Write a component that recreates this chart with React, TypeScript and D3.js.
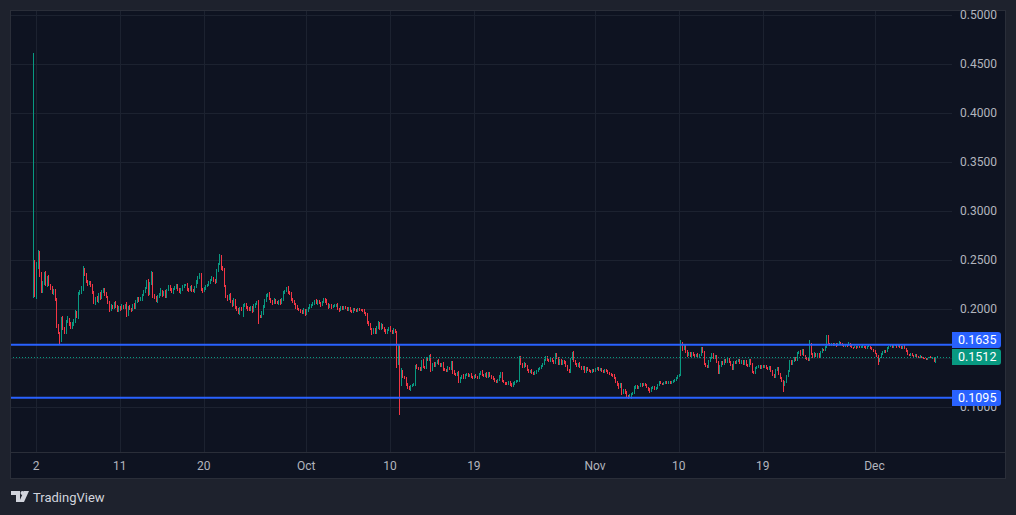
import React from "react";
import * as d3 from "d3";

const W = 1016;
const H = 515;

// 4h candles, first candle at 2025-09-01 16:00 UTC; prices in 1e-4 units
const firstOpen = 2150;
const closes = [
  2480, 2130, 2420, 2580, 2350, 2180, 2270, 2360, 2240, 2320,
  2250, 2210, 2160, 2190, 2100, 1830, 1760, 1700, 1900, 1800,
  1760, 1870, 1900, 1850, 1810, 1840, 1880, 1960, 1920, 2150,
  2170, 2200, 2400, 2350, 2290, 2250, 2270, 2240, 2170, 2060,
  2110, 2080, 2150, 2110, 2180, 2200, 2150, 2120, 2070, 1990,
  2030, 2010, 2060, 2030, 1980, 2020, 2000, 2030, 2010, 2040,
  1940, 2020, 2000, 1990, 2040, 2010, 2080, 2110, 2090, 2100,
  2140, 2180, 2210, 2290, 2150, 2260, 2370, 2130, 2120, 2080,
  2130, 2140, 2180, 2140, 2170, 2130, 2190, 2230, 2200, 2170,
  2200, 2220, 2240, 2200, 2170, 2190, 2230, 2240, 2250, 2200,
  2190, 2220, 2190, 2180, 2220, 2280, 2320, 2360, 2200, 2180,
  2210, 2230, 2250, 2270, 2300, 2320, 2290, 2280, 2390, 2460,
  2530, 2420, 2400, 2230, 2130, 2100, 2140, 2080, 2040, 2090,
  2020, 1990, 1960, 2010, 1990, 2030, 2050, 2020, 2000, 1990,
  2020, 1980, 2030, 2050, 2070, 1930, 1920, 1960, 2030, 2080,
  2140, 2150, 2100, 2080, 2060, 2090, 2070, 2060, 2080, 2060,
  2100, 2170, 2180, 2220, 2170, 2150, 2100, 2080, 2050, 2020,
  2000, 1990, 1980, 1960, 1990, 1950, 1980, 2010, 2030, 2040,
  2060, 2080, 2060, 2080, 2060, 2040, 2070, 2100, 2080, 2050,
  2020, 2040, 2020, 2030, 2035, 2040, 2000, 1990, 2020, 2000,
  2020, 2010, 1990, 2010, 1975, 1970, 2000, 1990, 1980, 2000,
  1990, 1985, 1980, 1960, 1940, 1870, 1840, 1800, 1750, 1790,
  1760, 1820, 1860, 1800, 1840, 1810, 1780, 1760, 1790, 1810,
  1780, 1760, 1790, 1770, 1440, 1630, 1230, 1360, 1310, 1300,
  1230, 1200, 1180, 1210, 1220, 1230, 1420, 1400, 1390, 1380,
  1470, 1410, 1400, 1500, 1480, 1520, 1380, 1440, 1420, 1450,
  1470, 1440, 1420, 1440, 1390, 1380, 1370, 1400, 1390, 1460,
  1360, 1340, 1330, 1350, 1260, 1300, 1320, 1300, 1330, 1340,
  1320, 1330, 1310, 1300, 1320, 1310, 1300, 1340, 1360, 1330,
  1320, 1340, 1310, 1350, 1320, 1300, 1290, 1270, 1260, 1280,
  1310, 1350, 1270, 1250, 1240, 1230, 1260, 1230, 1210, 1240,
  1260, 1265, 1270, 1510, 1440, 1410, 1440, 1420, 1380, 1360,
  1370, 1350, 1340, 1355, 1370, 1390, 1400, 1420, 1440, 1480,
  1510, 1480, 1470, 1490, 1470, 1450, 1540, 1500, 1440, 1480,
  1440, 1470, 1450, 1420, 1380, 1360, 1490, 1560, 1470, 1440,
  1420, 1440, 1410, 1390, 1410, 1360, 1400, 1380, 1370, 1360,
  1380, 1370, 1390, 1400, 1380, 1390, 1370, 1360, 1375, 1365,
  1350, 1340, 1330, 1320, 1300, 1260, 1230, 1200, 1240, 1140,
  1170, 1150, 1110, 1100, 1120, 1130, 1140, 1200, 1210, 1190,
  1210, 1240, 1220, 1240, 1220, 1200, 1180, 1160, 1190, 1200,
  1185, 1200, 1220, 1260, 1240, 1230, 1250, 1260, 1240, 1255,
  1245, 1260, 1270, 1280, 1300, 1320, 1330, 1640, 1590, 1620,
  1560, 1530, 1550, 1520, 1550, 1530, 1520, 1540, 1510, 1530,
  1600, 1560, 1440, 1420, 1410, 1470, 1500, 1540, 1500, 1520,
  1460, 1350, 1420, 1460, 1440, 1480, 1460, 1490, 1460, 1430,
  1390, 1460, 1450, 1470, 1480, 1450, 1470, 1440, 1470, 1430,
  1420, 1480, 1440, 1360, 1350, 1400, 1410, 1420, 1400, 1415,
  1405, 1420, 1400, 1390, 1410, 1370, 1330, 1310, 1380, 1400,
  1340, 1300, 1270, 1220, 1260, 1320, 1370, 1470, 1440, 1470,
  1500, 1480, 1550, 1570, 1540, 1580, 1530, 1500, 1490, 1480,
  1640, 1540, 1510, 1550, 1520, 1540, 1510, 1560, 1590, 1580,
  1610, 1720, 1650, 1630, 1640, 1630, 1645, 1625, 1640, 1660,
  1640, 1630, 1620, 1635, 1625, 1650, 1620, 1610, 1605, 1615,
  1605, 1615, 1608, 1615, 1620, 1610, 1600, 1615, 1620, 1605,
  1590, 1570, 1550, 1520, 1470, 1500, 1540, 1560, 1575, 1565,
  1600, 1615, 1625, 1610, 1625, 1630, 1615, 1625, 1610, 1600,
  1620, 1600, 1570, 1540, 1530, 1545, 1530, 1520, 1535, 1520,
  1510, 1520, 1505, 1495, 1490, 1485, 1500, 1510, 1500, 1510,
  1465, 1505, 1512,
];

const upperWicks = [
  2130, 20, 60, 20, 10, 30, 20, 15, 30, 20, 25, 10, 20, 15, 10, 10, 20, 10, 19, 30,
  20, 15, 30, 10, 20, 25, 15, 30, 20, 24, 20, 30, 40, 20, 15, 10, 20, 15, 20, 10,
  15, 20, 10, 20, 15, 14, 10, 20, 10, 15, 20, 10, 15, 20, 10, 15, 10, 20, 15, 10,
  30, 15, 20, 10, 15, 20, 10, 15, 10, 20, 15, 10, 17, 6, 20, 15, 18, 10, 20, 10,
  15, 20, 34, 10, 15, 20, 10, 15, 20, 10, 15, 10, 20, 15, 10, 20, 10, 15, 10, 20,
  10, 15, 20, 10, 15, 16, 20, 7, 10, 15, 10, 20, 10, 15, 10, 20, 10, 15, 20, 9,
  31, 20, 15, 20, 10, 15, 10, 20, 10, 22, 15, 10, 20, 15, 10, 20, 10, 15, 10, 20,
  10, 15, 20, 10, 15, 20, 10, 15, 10, 20, 15, 10, 20, 10, 15, 20, 10, 15, 10, 20,
  10, 15, 10, 7, 15, 10, 20, 10, 15, 10, 20, 10, 15, 10, 20, 10, 15, 10, 20, 10,
  15, 10, 20, 10, 15, 10, 10, 15, 10, 20, 10, 15, 10, 10, 15, 10, 20, 10, 10, 15,
  10, 15, 10, 10, 15, 10, 10, 15, 10, 10, 10, 10, 10, 15, 10, 20, 10, 15, 10, 20,
  15, 10, 20, 10, 15, 10, 10, 15, 10, 10, 20, 10, 15, 10, 10, 10, 10, 40, 20, 10,
  10, 10, 15, 10, 10, 15, 9, 20, 10, 15, 10, 20, 10, 15, 10, 11, 20, 10, 15, 10,
  10, 15, 10, 10, 20, 10, 10, 15, 10, 9, 10, 15, 10, 10, 15, 10, 10, 15, 10, 10,
  10, 10, 15, 10, 10, 15, 10, 10, 10, 15, 10, 10, 15, 10, 10, 10, 15, 10, 10, 10,
  15, 10, 10, 10, 10, 15, 10, 10, 10, 15, 10, 10, 10, 14, 10, 10, 15, 10, 10, 10,
  10, 15, 10, 10, 10, 5, 10, 10, 10, 10, 15, 10, 10, 10, 15, 10, 10, 10, 10, 10,
  10, 10, 10, 15, 10, 10, 10, 5, 10, 10, 10, 10, 15, 10, 10, 10, 10, 10, 10, 10,
  10, 5, 10, 10, 10, 10, 5, 10, 10, 10, 10, 10, 5, 10, 15, 10, 10, 15, 10, 10,
  10, 15, 10, 10, 10, 10, 10, 15, 10, 10, 5, 10, 10, 10, 10, 10, 5, 15, 10, 10,
  10, 5, 10, 10, 10, 10, 5, 10, 10, 10, 10, 10, 5, 10, 10, 10, 10, 44, 20, 10,
  10, 20, 10, 10, 15, 10, 10, 5, 10, 10, 12, 10, 10, 10, 5, 10, 10, 10, 10, 10,
  10, 10, 10, 5, 10, 10, 10, 10, 10, 10, 10, 5, 10, 10, 10, 10, 10, 5, 10, 10,
  10, 10, 5, 10, 10, 10, 5, 10, 10, 10, 10, 5, 10, 10, 10, 10, 10, 5, 10, 10,
  10, 10, 10, 5, 10, 10, 10, 10, 5, 10, 10, 10, 10, 5, 10, 10, 10, 5, 10, 10,
  44, 10, 10, 10, 5, 10, 10, 10, 10, 5, 10, 15, 10, 5, 10, 10, 5, 10, 10, 10,
  5, 10, 10, 5, 10, 10, 5, 10, 5, 10, 5, 10, 5, 5, 10, 5, 10, 5, 10, 5,
  10, 5, 10, 5, 10, 5, 10, 10, 5, 10, 10, 5, 10, 5, 10, 10, 5, 10, 5, 10,
  5, 10, 5, 10, 5, 10, 5, 5, 10, 5, 5, 10, 5, 5, 5, 10, 5, 5, 10, 5,
  5, 10, 5,
];

const lowerWicks = [
  40, 10, 30, 10, 20, 20, 15, 20, 10, 20, 15, 20, 10, 20, 15, 20, 15, 67, 35, 15,
  20, 10, 15, 20, 10, 15, 10, 20, 15, 20, 10, 15, 20, 10, 20, 15, 10, 20, 15, 10,
  20, 10, 15, 20, 10, 15, 20, 10, 15, 20, 10, 15, 10, 20, 10, 15, 20, 10, 15, 10,
  20, 15, 10, 20, 10, 15, 10, 20, 15, 10, 20, 10, 15, 10, 20, 10, 15, 20, 15, 10,
  15, 20, 10, 15, 10, 20, 15, 10, 20, 10, 15, 10, 20, 15, 10, 20, 10, 15, 10, 20,
  15, 10, 20, 10, 15, 10, 20, 10, 15, 20, 10, 15, 10, 20, 10, 15, 10, 20, 10, 15,
  10, 20, 15, 10, 20, 15, 10, 20, 15, 10, 20, 15, 10, 20, 15, 68, 10, 15, 20, 10,
  15, 20, 10, 15, 10, 83, 15, 10, 20, 15, 10, 20, 10, 15, 20, 10, 15, 10, 20, 15,
  10, 15, 20, 10, 15, 10, 20, 15, 10, 20, 15, 10, 20, 15, 10, 20, 10, 15, 10, 20,
  10, 15, 10, 20, 10, 15, 10, 10, 15, 10, 20, 10, 15, 10, 10, 15, 10, 20, 10, 10,
  15, 10, 10, 15, 10, 10, 15, 10, 10, 15, 10, 10, 10, 15, 10, 20, 10, 15, 15, 10,
  15, 10, 20, 10, 15, 10, 15, 10, 10, 15, 10, 15, 10, 10, 40, 10, 312, 15, 10, 15,
  20, 15, 10, 15, 10, 10, 15, 10, 15, 10, 15, 10, 10, 15, 10, 10, 20, 10, 15, 10,
  15, 10, 15, 10, 20, 10, 15, 10, 10, 15, 20, 10, 15, 10, 15, 10, 10, 15, 10, 10,
  15, 10, 10, 15, 10, 10, 15, 10, 10, 15, 10, 10, 15, 10, 10, 15, 10, 15, 10, 10,
  10, 15, 10, 10, 15, 10, 10, 15, 10, 10, 15, 10, 10, 10, 15, 10, 10, 15, 10, 10,
  15, 10, 10, 10, 15, 10, 10, 10, 15, 10, 10, 10, 15, 10, 10, 10, 15, 10, 10, 10,
  10, 15, 10, 10, 15, 10, 10, 10, 10, 15, 10, 10, 10, 15, 10, 10, 10, 10, 15, 10,
  10, 10, 15, 10, 10, 10, 15, 10, 10, 10, 10, 15, 10, 10, 15, 10, 15, 20, 10, 15,
  10, 15, 10, 15, 10, 38, 10, 10, 15, 10, 10, 10, 15, 10, 10, 10, 15, 15, 10, 10,
  10, 10, 15, 10, 10, 10, 10, 15, 10, 10, 10, 10, 10, 15, 10, 10, 10, 10, 15, 10,
  10, 15, 10, 10, 15, 10, 10, 10, 15, 10, 10, 10, 15, 10, 15, 10, 10, 10, 15, 10,
  10, 15, 10, 10, 10, 15, 10, 10, 10, 15, 10, 10, 10, 10, 15, 10, 10, 10, 15, 10,
  10, 10, 15, 10, 15, 10, 10, 10, 15, 10, 10, 10, 15, 10, 10, 15, 10, 10, 10, 10,
  15, 10, 10, 67, 10, 10, 15, 10, 10, 10, 15, 10, 10, 10, 15, 10, 10, 10, 10, 15,
  10, 10, 15, 10, 10, 10, 15, 10, 10, 5, 10, 10, 10, 5, 10, 10, 5, 10, 5, 10,
  10, 5, 10, 5, 10, 5, 10, 5, 10, 5, 10, 5, 10, 5, 10, 5, 10, 5, 5, 10,
  5, 10, 5, 10, 40, 10, 5, 10, 5, 10, 5, 10, 5, 10, 5, 5, 10, 5, 10, 5,
  10, 5, 10, 5, 10, 5, 10, 5, 5, 10, 5, 5, 10, 5, 5, 5, 10, 5, 5, 10,
  10, 15, 5,
];

const priceTicks = [0.1, 0.15, 0.2, 0.25, 0.3, 0.35, 0.4, 0.45, 0.5];
const timeTickDates = ["2025-09-02", "2025-09-11", "2025-09-20", "2025-10-01", "2025-10-10", "2025-10-19", "2025-11-01", "2025-11-10", "2025-11-19", "2025-12-01"];
const timeTickLabels = ["2", "11", "20", "Oct", "10", "19", "Nov", "10", "19", "Dec"];
const levelPrices = [0.1635, 0.1095];
const levelLabelTops = [332, 390];
const lastPrice = 0.1512;

const BG_OUTER = "#1e222d";
const BG_PANE = "#0e1321";
const GRID = "#1c2230";
const BORDER = "#2a2e39";
const UP = "#089981";
const DOWN = "#f23645";
const BLUE = "#2962ff";
const TEXT = "#b2b5be";
const FONT = "Roboto, 'Noto Sans', 'Liberation Sans', sans-serif";

const PANE_L = 10;
const PANE_R = 952;
const PANE_T = 10;
const PANE_B = 452;
const FRAME_R = 1006;
const FRAME_B = 479;

const startMs = Date.UTC(2025, 8, 1, 16);
const stepMs = 4 * 3600 * 1000;

export default function App() {
  const x = d3
    .scaleUtc()
    .domain([new Date(Date.UTC(2025, 8, 2)), new Date(Date.UTC(2025, 11, 1))])
    .range([36, 874.5]);
  const y = d3.scaleLinear().domain([0.1, 0.5]).range([407, 15]);

  const candles = closes.map((c, i) => {
    const o = i === 0 ? firstOpen : closes[i - 1];
    const hi = Math.max(o, c) + upperWicks[i];
    const lo = Math.min(o, c) - lowerWicks[i];
    return {
      t: new Date(startMs + i * stepMs),
      o: o / 10000,
      c: c / 10000,
      h: hi / 10000,
      l: lo / 10000,
    };
  });

  const fmt = d3.format(".4f");

  return (
    <div style={{ position: "absolute", left: 0, top: 0, width: W, height: H }}>
      <svg width={W} height={H} style={{ display: "block" }} fontFamily={FONT}>
        <defs>
          <clipPath id="pane">
            <rect x={PANE_L} y={PANE_T} width={PANE_R - PANE_L} height={PANE_B - PANE_T} />
          </clipPath>
        </defs>
        <rect x={0} y={0} width={W} height={H} fill={BG_OUTER} />
        <rect x={PANE_L} y={PANE_T} width={FRAME_R - PANE_L} height={FRAME_B - PANE_T} fill={BG_PANE} />

        {/* grid */}
        <g shapeRendering="crispEdges">
          {priceTicks.map((p) => (
            <line key={"gy" + p} x1={PANE_L} x2={PANE_R} y1={Math.round(y(p)) + 0.5} y2={Math.round(y(p)) + 0.5} stroke={GRID} />
          ))}
          {timeTickDates.map((d) => {
            const xx = Math.round(x(new Date(d + "T00:00:00Z"))) + 0.5;
            return <line key={"gx" + d} x1={xx} x2={xx} y1={PANE_T} y2={PANE_B} stroke={GRID} />;
          })}
        </g>

        {/* candles */}
        <g clipPath="url(#pane)" shapeRendering="crispEdges">
          {candles.map((d, i) => {
            const xc = Math.round(x(d.t));
            const col = d.c >= d.o ? UP : DOWN;
            const yTop = y(Math.max(d.o, d.c));
            const yBot = y(Math.min(d.o, d.c));
            return (
              <g key={i}>
                <rect x={xc} y={y(d.h)} width={1} height={Math.max(1, y(d.l) - y(d.h))} fill={col} />
                <rect x={xc} y={yTop} width={1} height={Math.max(1, yBot - yTop)} fill={col} />
              </g>
            );
          })}
        </g>

        {/* last price dotted line */}
        <line
          x1={PANE_L}
          x2={PANE_R}
          y1={Math.round(y(lastPrice)) + 0.5}
          y2={Math.round(y(lastPrice)) + 0.5}
          stroke={UP}
          strokeWidth={1}
          strokeDasharray="1 2"
          shapeRendering="crispEdges"
        />

        {/* horizontal levels */}
        {levelPrices.map((p) => (
          <line key={"lv" + p} x1={PANE_L} x2={PANE_R} y1={y(p)} y2={y(p)} stroke={BLUE} strokeWidth={2} />
        ))}

        {/* axes separators */}
        <line x1={PANE_L} x2={FRAME_R} y1={PANE_B + 0.5} y2={PANE_B + 0.5} stroke={BORDER} shapeRendering="crispEdges" />
        <rect x={PANE_L + 0.5} y={PANE_T + 0.5} width={FRAME_R - PANE_L - 1} height={FRAME_B - PANE_T - 1} fill="none" stroke={BORDER} shapeRendering="crispEdges" />

        {/* price axis labels */}
        {priceTicks.map((p) => (
          <text key={"py" + p} x={960} y={y(p)} dy="0.35em" fontSize={12} fill={TEXT}>
            {fmt(p)}
          </text>
        ))}

        {/* time axis labels */}
        {timeTickDates.map((d, i) => (
          <text key={"tx" + d} x={x(new Date(d + "T00:00:00Z"))} y={466} dy="0.35em" textAnchor="middle" fontSize={12} fill={TEXT}>
            {timeTickLabels[i]}
          </text>
        ))}

        {/* level labels */}
        {levelPrices.map((p, i) => (
          <g key={"lb" + p}>
            <path
              d={`M952,${levelLabelTops[i]} H998 a3,3 0 0 1 3,3 V${levelLabelTops[i] + 13} a3,3 0 0 1 -3,3 H952 Z`}
              fill={BLUE}
            />
            <text x={958} y={levelLabelTops[i] + 8} dy="0.35em" fontSize={12.5} fill="#ffffff">
              {fmt(p)}
            </text>
          </g>
        ))}
        <g>
          <path d={`M952,349 H998 a3,3 0 0 1 3,3 V362 a3,3 0 0 1 -3,3 H952 Z`} fill={UP} />
          <text x={958} y={357} dy="0.35em" fontSize={12.5} fill="#ffffff">
            {fmt(lastPrice)}
          </text>
        </g>

        {/* TradingView logo */}
        <g fill="#d1d4dc">
          <path d="M11,491 h9 v11 h-4 v-7 h-5 z" />
          <circle cx={22.5} cy={493} r={2} />
          <path d="M24,491 h5 l-5,11 h-5 z" />
          <text x={33} y={497} dy="0.35em" fontSize={13} fill="#d1d4dc">
            TradingView
          </text>
        </g>
      </svg>
    </div>
  );
}
